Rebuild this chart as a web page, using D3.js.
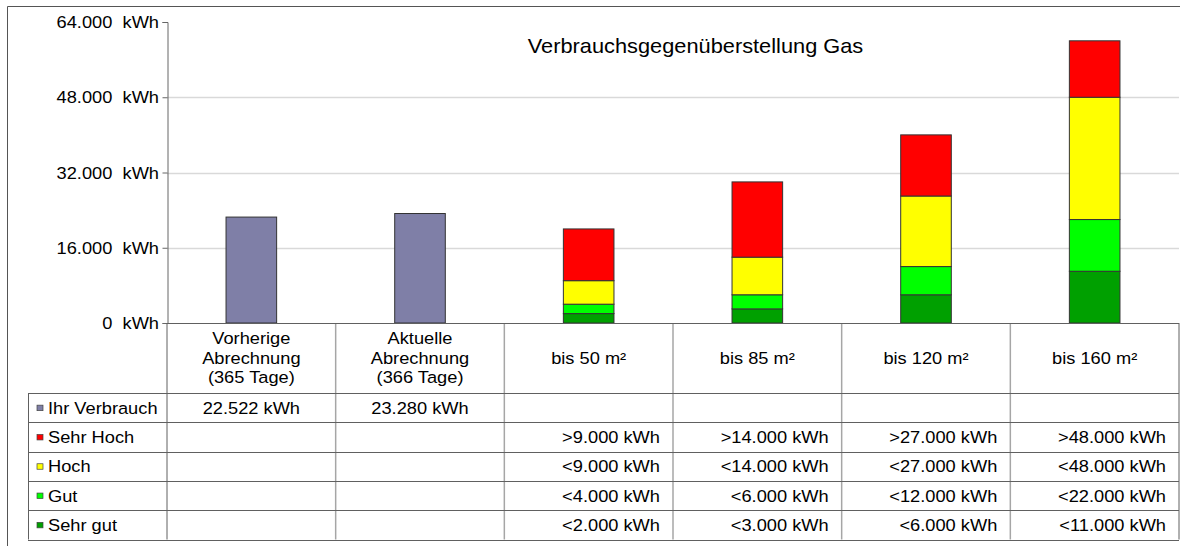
<!DOCTYPE html>
<html><head><meta charset="utf-8">
<script src="https://cdn.jsdelivr.net/npm/d3@7"></script>
<style>
html,body{margin:0;padding:0;background:#fff;}
svg{display:block;font-family:"Liberation Sans",Arial,sans-serif;}
</style></head>
<body>
<svg id="chart" width="1189" height="546"></svg>
<script>
// ---- data ----
const categories = [
  ["Vorherige","Abrechnung","(365 Tage)"],
  ["Aktuelle","Abrechnung","(366 Tage)"],
  ["bis 50 m²"],["bis 85 m²"],["bis 120 m²"],["bis 160 m²"]
];
const verbrauch = [22522, 23280, 0, 0, 0, 0];
// stacked segment sizes (bottom to top)
const sehrGut  = [0, 0, 2000, 3000, 6000, 11000];
const gut      = [0, 0, 2000, 3000, 6000, 11000];
const hoch     = [0, 0, 5000, 8000, 15000, 26000];
const sehrHoch = [0, 0, 11000, 16000, 13000, 12000];

const yTicks = [0, 16000, 32000, 48000, 64000];
const gridTicks = [16000, 32000, 48000];

const rowNames = ["Ihr Verbrauch","Sehr Hoch","Hoch","Gut","Sehr gut"];
const verbrauchLabels = ["22.522 kWh","23.280 kWh","","","",""];
const sehrHochLabels = ["","",">9.000 kWh",">14.000 kWh",">27.000 kWh",">48.000 kWh"];
const hochLabels     = ["","","<9.000 kWh","<14.000 kWh","<27.000 kWh","<48.000 kWh"];
const gutLabels      = ["","","<4.000 kWh","<6.000 kWh","<12.000 kWh","<22.000 kWh"];
const sehrGutLabels  = ["","","<2.000 kWh","<3.000 kWh","<6.000 kWh","<11.000 kWh"];

const title = "Verbrauchsgegenüberstellung Gas";

// ---- styles ----
const colors = {verbrauch:"#7f7fa7", sehrHoch:"#ff0000", hoch:"#ffff00", gut:"#00ff00", sehrGut:"#00a000"};
const rowColors = [colors.verbrauch, colors.sehrHoch, colors.hoch, colors.gut, colors.sehrGut];
const rowAligns = ["middle","end","end","end","end"];

const svg = d3.select("#chart");
const plotLeft = 167, plotRight = 1179, plotTop = 22, zeroY = 323;
const headerBottom = 393, rowH = 29.3;
const SX = 1.12, FS = 16.3;

const x = d3.scaleBand().domain(d3.range(categories.length)).range([plotLeft, plotRight]).padding(0);
const y = d3.scaleLinear().domain([0, 64000]).range([zeroY, plotTop]);
const loc = d3.formatLocale({decimal:",", thousands:".", grouping:[3], currency:["",""]});
const fmt = loc.format(",.0f");

function txt(g, px, py, s, anchor, size, sx) {
  return g.append("text")
    .attr("transform", `translate(${px},${py}) scale(${sx||SX},1)`)
    .attr("text-anchor", anchor)
    .attr("font-size", size || FS)
    .attr("fill", "#000")
    .text(s);
}

// outer frame
svg.append("path").attr("d", `M7.5,546 V6.5 H1180`).attr("fill","none").attr("stroke","#555").attr("stroke-width",1);

// grid
svg.append("g").selectAll("line").data(gridTicks).join("line")
  .attr("x1", plotLeft).attr("x2", plotRight)
  .attr("y1", d => Math.round(y(d)) + 0.5).attr("y2", d => Math.round(y(d)) + 0.5)
  .attr("stroke", "#d9d9d9").attr("stroke-width", 1.5);

// title
txt(svg, 695.5, 53, title, "middle", 20, 1.09);

// y axis
const yAxis = d3.axisLeft(y).tickValues(yTicks).tickSize(5).tickFormat(d => fmt(d) + "\u00a0\u00a0kWh");
const ga = svg.append("g").attr("transform", `translate(${plotLeft + 0.5},0)`).call(yAxis);
ga.select(".domain").attr("stroke", "#666");
ga.selectAll(".tick line").attr("stroke", "#666");
ga.selectAll(".tick text").remove();
yTicks.forEach(t => txt(svg, 159, y(t) + 6, fmt(t) + "\u00a0\u00a0kWh", "end", FS));

// bars
const barW = x.bandwidth() * 0.30;
const bx = i => x(i) + (x.bandwidth() - barW) / 2;

svg.append("g").selectAll("rect").data(verbrauch.map((v, i) => ({v, i})).filter(d => d.v > 0)).join("rect")
  .attr("x", d => bx(d.i)).attr("width", barW)
  .attr("y", d => y(d.v)).attr("height", d => y(0) - y(d.v))
  .attr("fill", colors.verbrauch).attr("stroke", "#333").attr("stroke-width", 1);

const keys = ["sehrGut","gut","hoch","sehrHoch"];
const stackData = categories.map((c, i) => ({i, sehrGut: sehrGut[i], gut: gut[i], hoch: hoch[i], sehrHoch: sehrHoch[i]}));
const series = d3.stack().keys(keys)(stackData);
svg.append("g").selectAll("g").data(series).join("g")
  .attr("fill", s => colors[s.key])
  .selectAll("rect").data(s => s.filter(d => d[1] > d[0])).join("rect")
  .attr("x", d => bx(d.data.i)).attr("width", barW)
  .attr("y", d => y(d[1])).attr("height", d => y(d[0]) - y(d[1]))
  .attr("stroke", "#333").attr("stroke-width", 1);

// ---- table ----
const tbl = svg.append("g");
const tableBottom = headerBottom + rowH * 5;
const vStroke = "#a6a6a6", hStroke = "#606060";

const colEdges = d3.range(categories.length + 1).map(i => i < categories.length ? x(i) : plotRight);
colEdges.forEach((cx, i) => {
  const edge = (i === 0 || i === categories.length);
  tbl.append("line").attr("x1", cx).attr("x2", cx).attr("y1", zeroY).attr("y2", tableBottom)
    .attr("stroke", edge ? hStroke : vStroke)
    .attr("stroke-width", edge ? 1 : 1.5);
});
tbl.append("line").attr("x1", 28.5).attr("x2", 28.5).attr("y1", headerBottom).attr("y2", tableBottom).attr("stroke", hStroke);
d3.range(6).forEach(r => {
  const yy = Math.round(headerBottom + r * rowH) + 0.5;
  tbl.append("line").attr("x1", 28).attr("x2", plotRight).attr("y1", yy).attr("y2", yy).attr("stroke", hStroke);
});
tbl.append("line").attr("x1", plotLeft).attr("x2", plotRight).attr("y1", zeroY + 0.5).attr("y2", zeroY + 0.5).attr("stroke", hStroke);

// header labels
categories.forEach((lines, i) => {
  const cx = x(i) + x.bandwidth() / 2;
  const n = lines.length;
  const lh = 19.5;
  const midY = (zeroY + headerBottom) / 2 + 5.5;
  lines.forEach((l, k) => txt(tbl, cx, midY + (k - (n - 1) / 2) * lh, l, "middle", FS));
});

// rows
const rowLabels = [verbrauchLabels, sehrHochLabels, hochLabels, gutLabels, sehrGutLabels];
rowNames.forEach((name, r) => {
  const cy = headerBottom + r * rowH + rowH / 2;
  tbl.append("rect").attr("x", 37).attr("y", cy - 2.5).attr("width", 6).attr("height", 5.5)
    .attr("fill", rowColors[r]).attr("stroke", "#444").attr("stroke-width", 0.7);
  txt(tbl, 48, cy + 6, name, "start", FS);
  rowLabels[r].forEach((lab, i) => {
    if (!lab) return;
    const px = rowAligns[r] === "middle" ? x(i) + x.bandwidth() / 2 : x(i) + x.bandwidth() - 13;
    txt(tbl, px, cy + 6, lab, rowAligns[r], FS);
  });
});
</script>
</body></html>
